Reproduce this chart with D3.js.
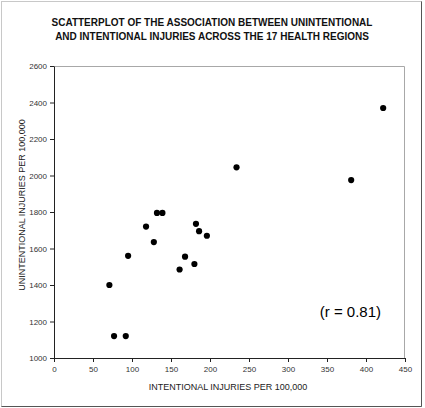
<!DOCTYPE html>
<html>
<head>
<meta charset="utf-8">
<script src="https://cdn.jsdelivr.net/npm/d3@7"></script>
<style>
  body { margin: 0; background: #fff; }
  text { font-family: "Liberation Sans", Arial, sans-serif; }
</style>
</head>
<body>
<div id="chart"></div>
<script>
// intentional vs unintentional injuries per 100,000, one point per health region
const intentional   = [71, 77, 92, 95, 118, 128, 132, 139, 161, 168, 180, 182, 186, 196, 234, 381, 422];
const unintentional = [1400, 1120, 1120, 1560, 1720, 1635, 1795, 1795, 1485, 1555, 1515, 1735, 1695, 1670, 2045, 1975, 2370];
const xTicks = [0, 50, 100, 150, 200, 250, 300, 350, 400, 450];
const yTicks = [1000, 1200, 1400, 1600, 1800, 2000, 2200, 2400, 2600];
const titleLines = ['SCATTERPLOT OF THE ASSOCIATION BETWEEN UNINTENTIONAL',
                    'AND INTENTIONAL INJURIES ACROSS THE 17 HEALTH REGIONS'];

const config = {
    containerWidth: 425,
    containerHeight: 408,
    margin: {top: 66, right: 20, bottom: 50, left: 54}
};
const width = 405 - config.margin.left;
const height = 358 - config.margin.top;

const svg = d3.select('#chart').append('svg')
    .attr('width', config.containerWidth)
    .attr('height', config.containerHeight);

// outer frame, lighter on top/left, darker on bottom/right
svg.append('rect')
    .attr('x', 1.5).attr('y', 1.5)
    .attr('width', 420).attr('height', 405)
    .attr('fill', '#fff')
    .attr('stroke', '#c8c8c8');
svg.append('path')
    .attr('d', 'M421.5,1.5V406.5H1.5')
    .attr('fill', 'none')
    .attr('stroke', '#555');

const xScale = d3.scaleLinear().domain([0, 450]).range([0, width]);
const yScale = d3.scaleLinear().domain([1000, 2600]).range([height, 0]);

const chart = svg.append('g')
    .attr('transform', `translate(${config.margin.left},${config.margin.top})`);

// plot area border (top & right grey)
chart.append('path')
    .attr('d', `M0,0.5H${width - 0.5}V${height}`)
    .attr('fill', 'none')
    .attr('stroke', '#a8a8a8');

const xAxis = d3.axisBottom(xScale).tickValues(xTicks).tickFormat(d3.format('d'))
    .tickSizeInner(4).tickSizeOuter(0).tickPadding(4);
const yAxis = d3.axisLeft(yScale).tickValues(yTicks).tickFormat(d3.format('d'))
    .tickSizeInner(4).tickSizeOuter(0).tickPadding(3);

const xg = chart.append('g')
    .attr('transform', `translate(0,${height})`)
    .call(xAxis);
const yg = chart.append('g').call(yAxis);

[xg, yg].forEach(g => {
    g.select('.domain').attr('stroke', '#222');
    g.selectAll('.tick line').attr('stroke', '#222');
    g.selectAll('.tick text')
        .attr('fill', '#333')
        .attr('font-size', '8px')
        .attr('font-family', '"Liberation Sans", Arial, sans-serif');
});

// points
chart.selectAll('.dot')
    .data(intentional.map((d, i) => ({x: d, y: unintentional[i]})))
    .join('circle')
    .attr('class', 'dot')
    .attr('cx', d => xScale(d.x))
    .attr('cy', d => yScale(d.y))
    .attr('r', 3.1)
    .attr('fill', '#000');

// title
svg.append('text')
    .attr('x', 212)
    .attr('text-anchor', 'middle')
    .attr('font-size', '10px')
    .attr('font-weight', 'bold')
    .attr('fill', '#111')
    .selectAll('tspan')
    .data(titleLines)
    .join('tspan')
    .attr('x', 212)
    .attr('y', (d, i) => 26 + i * 14)
    .text(d => d);

// axis titles
svg.append('text')
    .attr('x', 228)
    .attr('y', 390)
    .attr('text-anchor', 'middle')
    .attr('font-size', '9px')
    .attr('fill', '#222')
    .text('INTENTIONAL INJURIES PER 100,000');

svg.append('text')
    .attr('transform', 'translate(25,205) rotate(-90)')
    .attr('text-anchor', 'middle')
    .attr('font-size', '9px')
    .attr('fill', '#222')
    .text('UNINTENTIONAL INJURIES PER 100,000');

// correlation note
svg.append('text')
    .attr('x', 381)
    .attr('y', 317)
    .attr('text-anchor', 'end')
    .attr('font-size', '15px')
    .attr('fill', '#000')
    .text('(r = 0.81)');
</script>
</body>
</html>
